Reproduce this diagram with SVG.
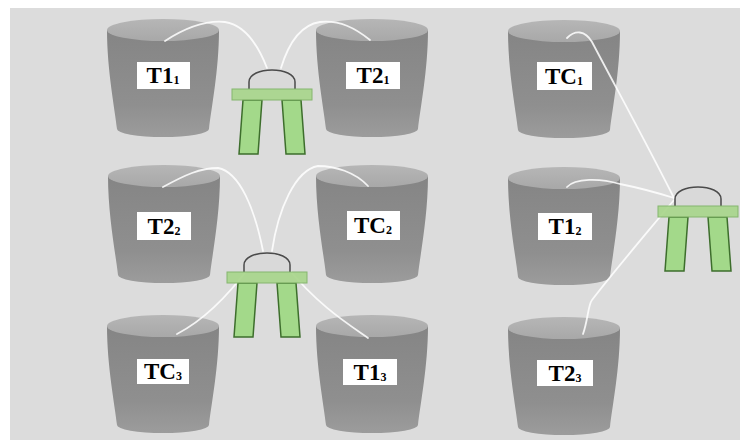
<svg xmlns="http://www.w3.org/2000/svg" xmlns:xlink="http://www.w3.org/1999/xlink" width="740" height="440" viewBox="0 0 740 440">
  <defs>
    <linearGradient id="bodyGrad" x1="0" y1="0" x2="0" y2="1">
      <stop offset="0" stop-color="#858585"/>
      <stop offset="0.7" stop-color="#8f8f8f"/>
      <stop offset="1" stop-color="#9c9c9c"/>
    </linearGradient>
    <linearGradient id="topGrad" x1="0" y1="0" x2="0" y2="1">
      <stop offset="0" stop-color="#b6b6b6"/>
      <stop offset="1" stop-color="#a8a8a8"/>
    </linearGradient>
    <!-- bucket drawn around the centre of its top rim -->
    <g id="bucket">
      <path d="M -56 0 C -56 40 -48 80 -46 99 A 46 8 0 0 0 46 99 C 48 80 56 40 56 0 Z" fill="url(#bodyGrad)"/>
      <ellipse cx="0" cy="0" rx="56" ry="11" fill="url(#topGrad)"/>
    </g>
    <!-- stool drawn from the centre of its seat top -->
    <g id="stool">
      <path d="M -23 0 V -7 C -23 -23 23 -23 23 -7 V 0" fill="#d9d9d9" stroke="#4a4a4a" stroke-width="1.5"/>
      <path class="leg" d="M -29 11 L -10 11 L -14 65 L -33 65 Z"/>
      <path class="leg" d="M 10 11 L 29 11 L 33 65 L 14 65 Z"/>
      <rect x="-40" y="0" width="80" height="11" fill="#a9d68c" stroke="#7fb366" stroke-width="1" opacity="0.92"/>
    </g>
    <style>
      .leg { fill: #a3d98a; stroke: #3d6e2c; stroke-width: 1.5; }
      .box { fill: #ffffff; }
      .lbl { font-family: "Liberation Serif", "Times New Roman", serif; font-weight: bold; font-size: 23px; fill: #000000; text-anchor: middle; }
      .sub { font-size: 12px; }
      .link { fill: none; stroke: #ffffff; stroke-width: 1.8; stroke-opacity: 0.85; stroke-linecap: round; }
    </style>
  </defs>

  <!-- backdrop -->
  <rect x="0" y="0" width="740" height="440" fill="#ffffff"/>
  <rect x="10" y="8" width="730" height="432" fill="#dcdcdc"/>

  <!-- buckets -->
  <g id="T1_1">
    <use xlink:href="#bucket" transform="translate(163,30)"/>
    <rect class="box" x="137" y="62" width="53" height="27"/>
    <text class="lbl" x="163" y="83">T1<tspan class="sub" dy="1">1</tspan></text>
  </g>
  <g id="T2_1">
    <use xlink:href="#bucket" transform="translate(372,30)"/>
    <rect class="box" x="346" y="62" width="54" height="27"/>
    <text class="lbl" x="373" y="83">T2<tspan class="sub" dy="1">1</tspan></text>
  </g>
  <g id="TC_1">
    <use xlink:href="#bucket" transform="translate(564,31)"/>
    <rect class="box" x="537" y="62" width="55" height="28"/>
    <text class="lbl" x="564" y="84">TC<tspan class="sub" dy="1">1</tspan></text>
  </g>
  <g id="T2_2">
    <use xlink:href="#bucket" transform="translate(164,176)"/>
    <rect class="box" x="137" y="212" width="54" height="28"/>
    <text class="lbl" x="164" y="234">T2<tspan class="sub" dy="1">2</tspan></text>
  </g>
  <g id="TC_2">
    <use xlink:href="#bucket" transform="translate(372,176)"/>
    <rect class="box" x="347" y="211" width="53" height="29"/>
    <text class="lbl" x="373" y="233">TC<tspan class="sub" dy="1">2</tspan></text>
  </g>
  <g id="T1_2">
    <use xlink:href="#bucket" transform="translate(564,178)"/>
    <rect class="box" x="538" y="213" width="54" height="27"/>
    <text class="lbl" x="565" y="234">T1<tspan class="sub" dy="1">2</tspan></text>
  </g>
  <g id="TC_3">
    <use xlink:href="#bucket" transform="translate(163,326)"/>
    <rect class="box" x="137" y="359" width="52" height="25"/>
    <text class="lbl" x="163" y="379">TC<tspan class="sub" dy="1">3</tspan></text>
  </g>
  <g id="T1_3">
    <use xlink:href="#bucket" transform="translate(372,326)"/>
    <rect class="box" x="343" y="359" width="54" height="26"/>
    <text class="lbl" x="370" y="380">T1<tspan class="sub" dy="1">3</tspan></text>
  </g>
  <g id="T2_3">
    <use xlink:href="#bucket" transform="translate(564,328)"/>
    <rect class="box" x="537" y="360" width="56" height="26"/>
    <text class="lbl" x="565" y="381">T2<tspan class="sub" dy="1">3</tspan></text>
  </g>

  <!-- connectors -->
  <g id="connectors">
    <path class="link" d="M 165 41 C 185 28 205 20 225 22 C 245 25 258 45 267 68"/>
    <path class="link" d="M 370 40 C 355 28 340 20 320 22 C 300 25 288 45 281 68"/>
    <path class="link" d="M 163 187 C 185 175 200 168 218 168 C 240 172 255 210 263 251"/>
    <path class="link" d="M 368 186 C 355 172 335 166 318 166 C 295 170 278 210 272 251"/>
    <path class="link" d="M 177 334 C 200 322 225 300 250 266"/>
    <path class="link" d="M 368 338 C 345 322 318 305 286 266"/>
    <path class="link" d="M 567 38 C 575 30 585 30 592 42 C 620 95 650 150 674 198"/>
    <path class="link" d="M 567 187 C 575 178 600 178 620 184 C 640 188 658 193 674 198"/>
    <path class="link" d="M 583 334 C 588 320 588 305 592 300 C 615 270 645 235 674 200"/>
  </g>

  <!-- stools -->
  <g id="stool_1"><use xlink:href="#stool" transform="translate(272,89)"/></g>
  <g id="stool_2"><use xlink:href="#stool" transform="translate(267,272)"/></g>
  <g id="stool_3"><use xlink:href="#stool" transform="translate(698,206)"/></g>
</svg>
